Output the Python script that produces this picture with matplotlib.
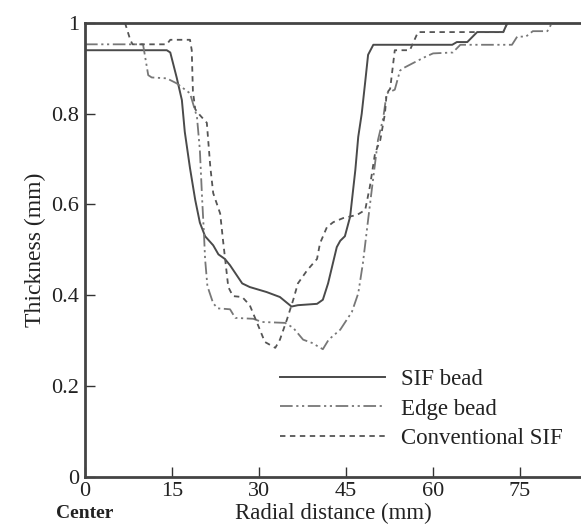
import matplotlib
matplotlib.use("Agg")
import matplotlib.pyplot as plt

plt.rcParams['font.family'] = ['Liberation Serif', 'DejaVu Serif']

# SIF bead (solid)
sif_x = [0, 14.1, 14.7, 15.8, 16.7, 17.2, 18.1, 19.0, 19.8, 20.7, 22.1, 23.0,
         24.1, 25.0, 27.1, 28.4, 31.3, 33.6, 35.6, 36.7, 40.0, 41.0, 41.9, 43.4,
         44.0, 44.8, 45.7, 46.6, 47.1, 47.7, 48.3, 48.8, 49.7, 63.3, 64.1, 65.9,
         67.6, 72.1, 72.8, 85.5]
sif_y = [0.94, 0.94, 0.935, 0.88, 0.83, 0.76, 0.68, 0.61, 0.56, 0.53, 0.51, 0.49,
         0.48, 0.466, 0.426, 0.418, 0.407, 0.396, 0.375, 0.378, 0.381, 0.39, 0.426, 0.506,
         0.52, 0.53, 0.573, 0.676, 0.749, 0.80, 0.87, 0.93, 0.952, 0.952, 0.958, 0.958,
         0.98, 0.98, 1.0, 1.0]

# Edge bead (dash-dot-dot)
edge_x = [0, 10.0, 10.9, 11.5, 14.1, 15.8, 18.1, 19.3, 19.8, 20.2, 20.5, 20.7,
          21.1, 22.1, 22.9, 25.0, 25.9, 29.0, 30.5, 34.5, 35.9, 37.6, 39.1, 41.0,
          42.0, 44.0, 46.0, 47.1, 47.9, 48.8, 49.7, 50.5, 51.4, 52.0, 53.4, 54.3,
          54.8, 56.6, 58.6, 60.0, 63.4, 64.7, 73.6, 74.5, 76.0, 77.2, 79.7, 80.5]
edge_y = [0.953, 0.953, 0.885, 0.88, 0.878, 0.867, 0.845, 0.793, 0.72, 0.61, 0.537, 0.48,
          0.42, 0.382, 0.371, 0.369, 0.35, 0.348, 0.341, 0.339, 0.328, 0.302, 0.295, 0.281,
          0.302, 0.324, 0.363, 0.404, 0.47, 0.566, 0.66, 0.742, 0.79, 0.845, 0.853, 0.895,
          0.90, 0.912, 0.925, 0.933, 0.935, 0.952, 0.952, 0.97, 0.97, 0.982, 0.982, 1.0]

# Conventional SIF (dashed)
conv_x = [0, 6.9, 7.8, 8.2, 14.1, 14.7, 18.1, 18.4, 18.6, 19.0, 19.8, 21.0,
          21.6, 22.1, 22.9, 23.3, 23.8, 24.7, 25.5, 27.1, 28.4, 29.7, 31.0, 32.8,
          33.6, 34.8, 35.9, 36.7, 38.3, 40.0, 40.5, 41.7, 42.8, 44.5, 46.9, 48.3,
          49.1, 50.0, 50.9, 51.7, 52.0, 52.6, 53.4, 56.0, 57.4, 72.1, 72.8]
conv_y = [1.0, 1.0, 0.963, 0.953, 0.953, 0.963, 0.963, 0.94, 0.85, 0.81, 0.797, 0.78,
          0.683, 0.625, 0.595, 0.58, 0.52, 0.418, 0.398, 0.396, 0.378, 0.338, 0.297, 0.284,
          0.302, 0.346, 0.39, 0.426, 0.455, 0.48, 0.514, 0.55, 0.561, 0.57, 0.577, 0.588,
          0.639, 0.713, 0.742, 0.80, 0.845, 0.855, 0.94, 0.94, 0.98, 0.98, 1.0]

x_ticks = [0, 15, 30, 45, 60, 75]
y_ticks = [0, 0.2, 0.4, 0.6, 0.8, 1.0]
y_ticklabels = ['0', '0.2', '0.4', '0.6', '0.8', '1']

fig = plt.figure(figsize=(5.81, 5.30), dpi=100)
ax = fig.add_axes([0.1463, 0.1006, 0.8537, 0.856])

ax.plot(sif_x, sif_y, color='#4a4a4a', lw=1.4, ls='-', label='SIF bead')
ax.plot(edge_x, edge_y, color='#777777', lw=1.3, ls=(0, (7, 2, 1.2, 2, 1.2, 2)), label='Edge bead')
ax.plot(conv_x, conv_y, color='#555555', lw=1.3, ls=(0, (3, 2.5)), label='Conventional SIF')

ax.set_xlim(0, 85.5)
ax.set_ylim(0, 1)
ax.set_xticks(x_ticks)
ax.set_xticklabels([str(t) for t in x_ticks])
ax.set_yticks(y_ticks)
ax.set_yticklabels(y_ticklabels)
ax.tick_params(direction='in', length=7, width=1, colors='#333333', labelsize=16,
               labelcolor='#222222', pad=4)

for side in ['left', 'bottom', 'top']:
    ax.spines[side].set_color('#444444')
    ax.spines[side].set_linewidth(2)
ax.spines['right'].set_visible(False)

ax.set_ylabel('Thickness (mm)', fontsize=17, color='#222222', labelpad=4)
ax.set_xlabel('Radial distance (mm)', fontsize=16.5, color='#222222', labelpad=1)
fig.text(85 / 581, 1 - 513 / 530, 'Center', fontsize=14, fontweight='bold',
         ha='center', va='center', color='#222222')

leg = ax.legend(loc='lower right', bbox_to_anchor=(1.005, 0.015), frameon=False,
                fontsize=16.5, handlelength=4.6, handletextpad=0.7, labelspacing=0.38)
for t in leg.get_texts():
    t.set_color('#222222')

fig.savefig('out.png', dpi=100)
